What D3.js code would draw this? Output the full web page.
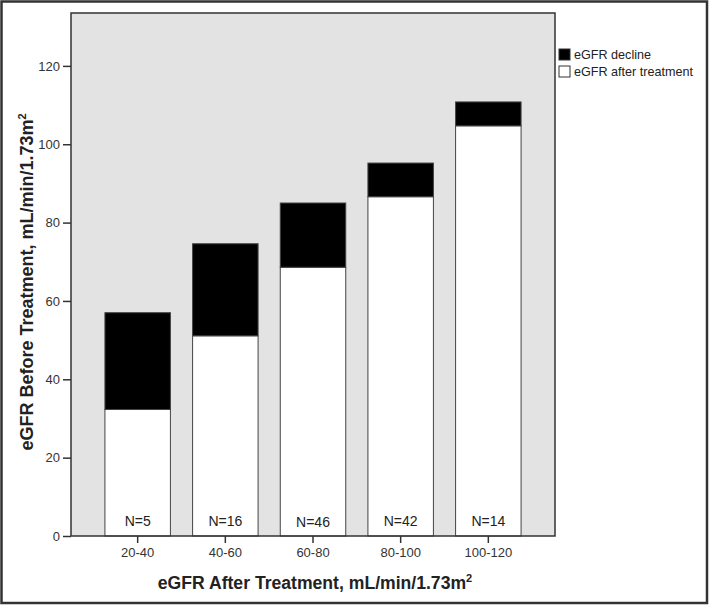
<!DOCTYPE html>
<html><head><meta charset="utf-8">
<script src="https://cdn.jsdelivr.net/npm/d3@7"></script>
<style>body{margin:0;background:#fff}svg{display:block;font-family:"Liberation Sans",Arial,sans-serif}</style>
</head><body>
<script>
const categories = ["20-40","40-60","60-80","80-100","100-120"];
const afterTreatment = [32.3, 51.1, 68.6, 86.6, 104.7];
const beforeTreatment = [57.0, 74.6, 85.0, 95.2, 110.8];
const nLabels = ["N=5","N=16","N=46","N=42","N=14"];
const yTicks = [0,20,40,60,80,100,120];
const seriesNames = ["eGFR decline","eGFR after treatment"];

const W=709,H=605;
const svg=d3.select("body").append("svg").attr("width",W).attr("height",H);
svg.append("rect").attr("x",1.5).attr("y",1.5).attr("width",W-3.5).attr("height",H-3.5)
  .attr("fill","#fff").attr("stroke","#333").attr("stroke-width",2.5);

const L=71,R=555,T=13,B=536;
const x=d3.scaleBand().domain(categories).range([L,R]).paddingInner(0.253).paddingOuter(0.387);
const y=d3.scaleLinear().domain([0,133.5]).range([B,T]);

svg.append("rect").attr("x",L).attr("y",T).attr("width",R-L).attr("height",B-T).attr("fill","#e3e3e3");

const data=categories.map((c,i)=>({cat:c,after:afterTreatment[i],decline:beforeTreatment[i]-afterTreatment[i]}));
const stack=d3.stack().keys(["after","decline"])(data);
const colors={after:"#ffffff",decline:"#000000"};
stack.forEach(s=>{
  svg.append("g").selectAll("rect").data(s).join("rect")
    .attr("x",d=>x(d.data.cat)).attr("width",x.bandwidth())
    .attr("y",d=>y(d[1])).attr("height",d=>y(d[0])-y(d[1]))
    .attr("fill",colors[s.key]).attr("stroke","#444").attr("stroke-width",1);
});

svg.append("g").selectAll("text").data(nLabels).join("text")
  .attr("x",(d,i)=>x(categories[i])+x.bandwidth()/2).attr("y",(d,i)=>i===2?527:526)
  .attr("text-anchor","middle").attr("font-size",14).attr("fill","#222").text(d=>d);

// frame
svg.append("rect").attr("x",L).attr("y",T).attr("width",R-L).attr("height",B-T)
  .attr("fill","none").attr("stroke","#333").attr("stroke-width",1.5);

const ya=svg.append("g").attr("transform",`translate(${L},0)`)
  .call(d3.axisLeft(y).tickValues(yTicks).tickSize(8).tickPadding(3));
ya.select(".domain").remove();
ya.selectAll("line").attr("stroke","#333").attr("stroke-width",1.5);
ya.selectAll("text").attr("font-size",13).attr("fill","#333").attr("font-family","Liberation Sans, Arial, sans-serif");

const xa=svg.append("g").attr("transform",`translate(0,${B})`)
  .call(d3.axisBottom(x).tickSize(7).tickPadding(5));
xa.select(".domain").remove();
xa.selectAll("line").attr("stroke","#333").attr("stroke-width",1.5);
xa.selectAll("text").attr("font-size",13).attr("fill","#333").attr("font-family","Liberation Sans, Arial, sans-serif");

const xt=svg.append("text").attr("x",315).attr("y",589).attr("text-anchor","middle")
  .attr("font-size",17.6).attr("font-weight","bold").attr("fill","#222");
xt.append("tspan").text("eGFR After Treatment, mL/min/1.73m");
xt.append("tspan").attr("font-size",11).attr("dy",-7).text("2");

const yt=svg.append("text").attr("transform","translate(33,282) rotate(-90)").attr("text-anchor","middle")
  .attr("font-size",18).attr("font-weight","bold").attr("fill","#222");
yt.append("tspan").text("eGFR Before Treatment, mL/min/1.73m");
yt.append("tspan").attr("font-size",11).attr("dy",-7).text("2");

const lg=svg.append("g");
seriesNames.forEach((n,i)=>{
  lg.append("rect").attr("x",559).attr("y",49+i*17).attr("width",11).attr("height",11)
    .attr("fill",i===0?"#000":"#fff").attr("stroke","#333").attr("stroke-width",1);
  lg.append("text").attr("x",574).attr("y",59+i*17).attr("font-size",12.6).attr("fill","#222").text(n);
});
</script>
</body></html>
